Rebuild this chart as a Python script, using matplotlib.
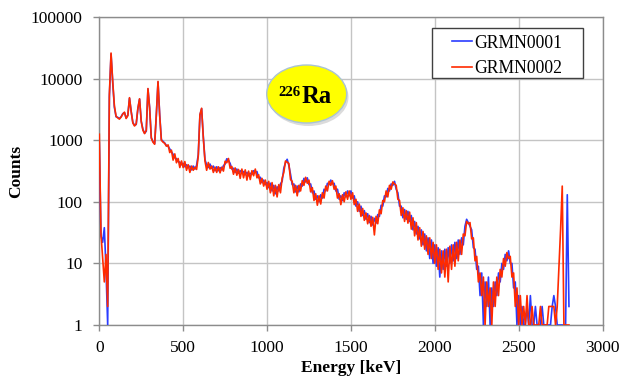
"""
226Ra ガンマ線スペクトル比較 (GRMN0001 / GRMN0002)
"""

import matplotlib

matplotlib.use("Agg")
import matplotlib.pyplot as plt
import numpy as np
from matplotlib.patches import Ellipse, Rectangle
from matplotlib.ticker import FuncFormatter, NullLocator

# エネルギービン (10 keV 幅)
energy_kev = np.arange(0, 2810, 10)

# 読み取ったカウント値 (100 keV ごとに1行)
grmn0001 = [
    900, 28, 22, 38, 8, 1, 5000, 25000, 8500, 3400,
    2400, 2350, 2250, 2400, 2700, 2800, 2300, 2550, 4800, 2950,
    1950, 1750, 1800, 3250, 4650, 2050, 1500, 1300, 1400, 6800,
    3400, 1100, 950, 880, 2550, 8800, 2600, 1020, 960, 900,
    820, 800, 720, 650, 590, 520, 500, 450, 440, 400,
    420, 370, 400, 360, 380, 330, 380, 340, 390, 580,
    2550, 3250, 1150, 480, 400, 360, 410, 350, 380, 320,
    370, 320, 360, 330, 385, 410, 500, 470, 420, 340,
    350, 300, 340, 290, 320, 290, 310, 275, 300, 265,
    290, 280, 320, 300, 310, 245, 250, 205, 225, 190,
    205, 170, 200, 150, 185, 135, 175, 150, 195, 215,
    350, 430, 490, 390, 280, 190, 195, 145, 180, 145,
    195, 180, 240, 210, 245, 190, 195, 140, 150, 110,
    125, 100, 130, 115, 160, 150, 200, 190, 225, 195,
    200, 150, 160, 110, 125, 105, 140, 120, 150, 125,
    150, 115, 125, 85, 100, 70, 85, 60, 72, 52,
    64, 46, 58, 42, 54, 45, 62, 58, 88, 85,
    125, 120, 165, 150, 195, 185, 215, 160, 140, 85,
    85, 55, 75, 52, 70, 48, 60, 35, 48, 30,
    40, 25, 35, 20, 30, 16, 26, 12, 24, 10,
    20, 9, 18, 6, 16, 8, 17, 9, 18, 10,
    20, 11, 22, 12, 24, 14, 26, 20, 40, 52,
    46, 40, 35, 18, 17, 8, 9, 3, 7, 1,
    5, 2, 6, 1, 4, 2, 5, 3, 7, 5,
    10, 8, 14, 11, 16, 10, 10, 4, 5, 1,
    3, 1, 2, 1, 1, 2, 1, 3, 1, 1,
    2, 1, 1, 1, 2, 1, 1, 1, 1, 1,
    2, 3, 2, 1, 1, 1, 1, 1, 1, 130,
    2,
]

grmn0002 = [
    1250, 30, 12, 5, 14, 2, 5500, 26000, 9000, 3600,
    2450, 2300, 2200, 2380, 2650, 2850, 2250, 2500, 4900, 2900,
    1900, 1700, 1850, 3300, 4700, 2000, 1450, 1280, 1450, 6900,
    3300, 1080, 930, 860, 2600, 9000, 2500, 1000, 930, 890,
    800, 840, 630, 690, 475, 600, 430, 505, 360, 460,
    360, 450, 325, 400, 300, 380, 325, 365, 335, 550,
    2600, 3300, 1100, 460, 325, 435, 340, 380, 300, 365,
    300, 370, 295, 365, 315, 455, 430, 505, 350, 375,
    280, 355, 270, 335, 240, 340, 245, 330, 225, 315,
    230, 320, 265, 340, 245, 275, 195, 240, 180, 225,
    160, 215, 140, 205, 125, 185, 120, 190, 140, 240,
    300, 460, 440, 420, 230, 215, 140, 185, 125, 185,
    150, 220, 185, 250, 200, 225, 145, 170, 105, 135,
    88, 125, 92, 140, 115, 180, 150, 215, 185, 220,
    160, 180, 115, 135, 90, 130, 100, 145, 110, 150,
    110, 140, 90, 110, 70, 92, 58, 78, 50, 66,
    44, 60, 40, 56, 29, 58, 44, 74, 64, 105,
    100, 150, 120, 185, 160, 210, 195, 185, 110, 105,
    60, 80, 48, 72, 45, 68, 36, 55, 28, 46,
    24, 38, 19, 33, 17, 28, 14, 26, 12, 22,
    10, 20, 8, 17, 7, 16, 6, 17, 5, 19,
    8, 20, 9, 22, 11, 24, 14, 30, 28, 48,
    44, 46, 25, 26, 11, 13, 5, 7, 3, 6,
    1, 5, 2, 4, 1, 5, 2, 6, 3, 8,
    6, 12, 9, 15, 12, 13, 6, 7, 2, 4,
    1, 3, 1, 2, 1, 3, 1, 1, 2, 1,
    1, 1, 1, 2, 1, 1, 1, 1, 2, 2,
    2, 2, 1, 2, 8, 35, 180, 1, 1, 1,
    1,
]

series_labels = ["GRMN0001", "GRMN0002"]
series_colors = ["#2a3cff", "#ff2a00"]
x_ticks = [0, 500, 1000, 1500, 2000, 2500, 3000]
y_ticks = [1, 10, 100, 1000, 10000, 100000]

plt.rcParams["font.family"] = ["Liberation Serif", "DejaVu Serif"]
plt.rcParams["font.size"] = 12.5

W, H = 622, 381
fig = plt.figure(figsize=(W / 100, H / 100), dpi=100)
ax = fig.add_axes([99.3 / W, (H - 325) / H, 503.2 / W, 308 / H])

# スペクトル
for counts, label, color in zip([grmn0001, grmn0002], series_labels, series_colors):
    ax.plot(energy_kev, counts, color=color, linewidth=1.2, label=label, zorder=3)

# 軸
ax.set_yscale("log")
ax.set_xlim(0, 3000)
ax.set_ylim(1, 100000)
ax.set_xticks(x_ticks)
ax.set_yticks(y_ticks)
ax.yaxis.set_minor_locator(NullLocator())
ax.yaxis.set_major_formatter(FuncFormatter(lambda v, p: f"{v:g}"))
ax.tick_params(axis="both", direction="out", length=4.5, width=1,
               color="#8c8c8c", labelsize=12.5)
ax.tick_params(axis="x", pad=6.5)
ax.tick_params(axis="y", pad=7.5)

ax.grid(True, color="#c4c4c4", linewidth=1, zorder=0)
ax.set_axisbelow(True)
for s in ax.spines.values():
    s.set_color("#8c8c8c")
    s.set_linewidth(1)

ax.set_xlabel("Energy [keV]", fontweight="bold", fontsize=12.5, labelpad=3)
ax.set_ylabel("Counts", fontweight="bold", fontsize=12.5, labelpad=5)

# 凡例 (枠は別に描く)
ax.add_patch(Rectangle((432 / W, 1 - 78 / H), 151 / W, 50 / H,
                       transform=fig.transFigure, facecolor="white",
                       edgecolor="#404040", linewidth=1, zorder=4, clip_on=False))
leg = ax.legend(loc="upper left", bbox_to_anchor=(452 / W, 1 - 34.5 / H),
                bbox_transform=fig.transFigure, frameon=False, fontsize=12.7,
                handlelength=1.15, handletextpad=0.1, labelspacing=0.5,
                borderpad=0, borderaxespad=0)
leg.set_zorder(5)

# 226Ra ラベル
fig.add_artist(Ellipse((308.5 / W, 1 - 97 / H), 80 / W, 58 / H,
                       transform=fig.transFigure, facecolor="#b8b8b8",
                       edgecolor="none", alpha=0.5, zorder=4))
fig.add_artist(Ellipse((306.7 / W, 1 - 94 / H), 80 / W, 58 / H,
                       transform=fig.transFigure, facecolor="#ffff00",
                       edgecolor="#a9c3d6", linewidth=1, zorder=4))
fig.text(300.5 / W, 1 - 95.7 / H, "226", ha="right", va="baseline",
         fontsize=10.6, fontweight="bold", zorder=5)
fig.text(302 / W, 1 - 103.3 / H, "Ra", ha="left", va="baseline",
         fontsize=17.7, fontweight="bold", zorder=5)

plt.savefig("out.png", dpi=100)
plt.close()
